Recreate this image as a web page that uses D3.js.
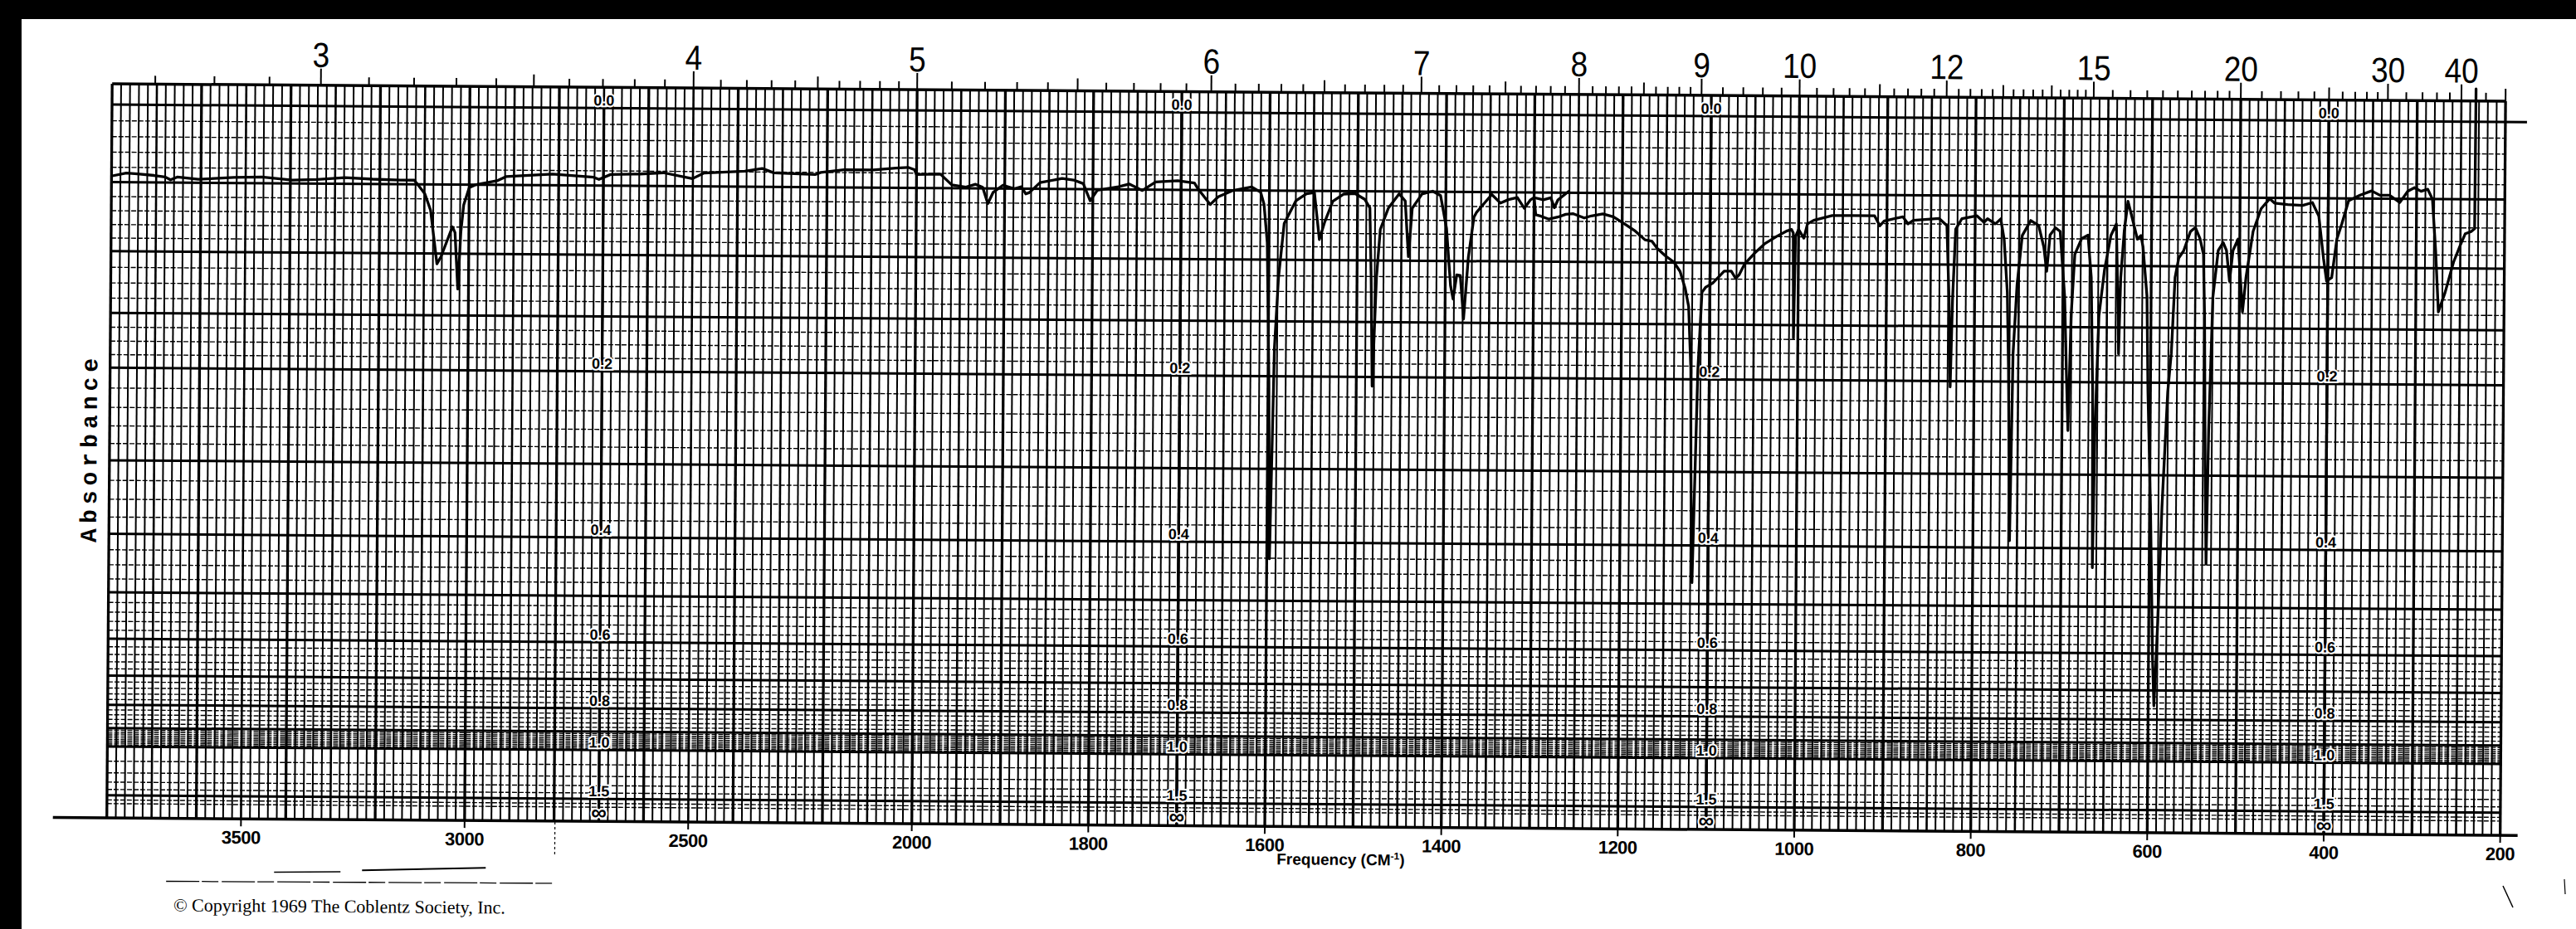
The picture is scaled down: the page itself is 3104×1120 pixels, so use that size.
<!DOCTYPE html>
<html>
<head>
<meta charset="utf-8">
<script src="https://cdn.jsdelivr.net/npm/d3@7"></script>
<style>
  body { margin: 0; background: #fff; }
  svg { display: block; }
</style>
</head>
<body>
<svg id="chart"></svg>
<script>
// Spectrum trace: wavenumber (cm-1) and transmittance (%)
var freq = [3798, 3767, 3742, 3705, 3680, 3668, 3653, 3606, 3526, 3464, 3396, 3340, 3278, 3216, 3154, 3123,
  3114, 3099, 3086, 3071, 3062, 3037, 3031, 3024, 3018, 3012, 3000, 2987, 2938, 2918, 2814, 2722, 2710, 2684,
  2618, 2566, 2501, 2475, 2384, 2345, 2319, 2227, 2214, 2162, 2097, 2046, 2019, 2005, 2000,
  1973, 1960, 1944, 1933, 1925, 1919, 1913, 1902, 1889, 1881, 1876, 1872, 1860, 1835, 1822, 1811, 1803, 1795,
  1771, 1759, 1744, 1729, 1704, 1685, 1681, 1667, 1658, 1641, 1620, 1610, 1606, 1602, 1599, 1597, 1593, 1589,
  1583, 1570, 1558, 1549, 1543, 1537, 1528, 1516, 1503, 1492, 1486, 1484, 1482, 1478, 1474, 1465, 1453, 1446,
  1442, 1438, 1427, 1415, 1406, 1399, 1394, 1391, 1387, 1383, 1379, 1374, 1368, 1365, 1348, 1338, 1329, 1319,
  1311, 1304, 1300, 1298, 1292, 1283, 1273, 1264, 1256, 1243, 1235, 1222, 1210, 1197, 1185, 1174, 1166, 1160,
  1151, 1141, 1134, 1128, 1124, 1121, 1120, 1118, 1113, 1109, 1105, 1097, 1090, 1084, 1076, 1071, 1067, 1061,
  1050, 1038, 1025, 1013, 1008, 1006, 1005, 1003.5, 1000, 994, 990, 983, 962, 941, 914, 908, 903, 882, 876, 870,
  841, 832, 829, 827, 825, 822, 815, 798, 790, 786, 777, 771, 767, 763, 761, 758.5, 756, 752, 746.5, 737, 728,
  722, 718.6, 715, 709, 703.6, 698, 695.4, 693.2, 690.5, 686.8, 679.3, 672, 668, 665.5, 664.4, 662.6, 659, 653,
  646, 640, 637.2, 636.5, 634.6, 631, 627, 623.4, 616, 612, 609.6, 604.7, 602.8, 599, 595.4, 593.5, 589.8, 586,
  580.4, 576.7, 573, 569, 563.6, 556, 550.5, 545, 541, 539.3, 537.4, 535.6, 533.7, 530, 524.3, 518.8, 515,
  511.3, 507.6, 502, 496.4, 492.6, 485, 476, 466.5, 461, 446, 429, 418, 410.6, 405, 401.3, 395.6, 390, 384.4,
  377, 364, 351, 341.6, 330.4, 319, 310, 302.4, 295, 287.5, 282, 278, 274.4, 267, 257.6, 250, 244.5, 238, 234, 233.5];
var trans = [90.0, 90.4, 90.3, 90.1, 89.9, 89.5, 89.9, 89.6, 89.9, 90.0, 89.6, 89.7, 90.0, 89.8, 89.7, 89.7,
  89.0, 87.8, 85.5, 78.0, 79.0, 83.2, 82.4, 74.5, 82.5, 86.3, 88.7, 89.1, 89.7, 90.3, 90.7, 90.3, 90.0, 90.7,
  90.8, 91.0, 90.2, 91.0, 91.3, 91.7, 91.1, 90.9, 91.2, 91.6, 91.6, 91.9, 92.0, 91.7, 91.0,
  91.1, 89.6, 89.3, 89.7, 89.3, 87.0, 88.6, 89.6, 89.1, 89.4, 88.4, 88.6, 90.0, 90.6, 90.4, 89.9, 87.5, 89.0,
  89.5, 89.9, 89.0, 90.2, 90.4, 90.1, 89.3, 87.1, 88.2, 89.1, 89.6, 88.9, 87.2, 81.8, 62.2, 37.5, 67.1, 76.9,
  84.5, 87.7, 88.7, 88.9, 82.3, 84.8, 87.7, 88.7, 88.8, 88.0, 86.8, 77.0, 61.8, 77.0, 83.8, 86.8, 88.8, 87.8,
  80.0, 86.8, 88.8, 89.2, 88.6, 84.0, 76.0, 74.1, 77.5, 77.4, 71.3, 80.0, 85.6, 86.3, 88.8, 87.6, 88.1, 88.4,
  86.9, 88.1, 88.4, 86.0, 85.8, 85.4, 85.7, 86.1, 86.2, 85.6, 85.9, 86.2, 85.8, 84.8, 83.8, 82.6, 82.4, 81.4,
  80.4, 79.5, 78.2, 75.8, 73.3, 64.5, 49.8, 34.6, 64.5, 75.3, 76.0, 76.6, 77.5, 78.3, 78.3, 77.3, 77.8, 79.3,
  80.8, 82.2, 83.2, 84.0, 84.2, 83.7, 69.0, 83.2, 84.2, 83.0, 85.0, 85.5, 86.2, 86.2, 86.2, 84.8, 85.5, 86.1, 85.1, 85.6,
  85.9, 84.9, 74.6, 62.3, 74.6, 84.4, 85.9, 86.3, 85.4, 85.9, 85.2, 85.9, 83.0, 75.6, 64.8, 40.8, 67.0, 76.7, 83.6, 85.7, 85.0,
  82.0, 78.6, 83.7, 84.7, 84.2, 75.1, 64.4, 56.3, 72.4, 81.0, 83.2, 83.7, 77.8, 61.7, 37.1, 56.4, 72.4, 78.9,
  83.7, 85.3, 72.5, 67.1, 77.8, 84.3, 88.5, 86.8, 83.2, 83.7, 82.1, 75.2, 61.8, 45.7, 24.3, 17.8, 29.6, 45.7,
  61.8, 67.2, 77.9, 80.6, 81.6, 84.3, 84.9, 83.3, 81.1, 72.6, 51.1, 37.7, 56.5, 75.2, 81.7, 82.8, 81.7,
  77.4, 81.7, 83.3, 73.1, 78.0, 84.4, 87.6, 89.0, 88.4, 88.2, 88.1, 88.5, 86.6, 80.7, 77.5, 78.0, 83.4, 85.6,
  88.8, 89.6, 90.2, 89.6, 89.6, 88.6, 90.2, 90.7, 90.2, 90.5, 89.1, 81.9, 73.3, 76.0, 80.3, 82.7, 84.3, 84.6, 85.0, 104.6];

// short loose piece of trace where the chart paper overlaps near 1290 cm-1
var overlapFreq = [1300, 1289.5, 1281, 1277, 1273, 1260];
var overlapTrans = [88.4, 88.1, 88.4, 87.0, 88.1, 89.4];

// axis labels
var micronLabels = [3, 4, 5, 6, 7, 8, 9, 10, 12, 15, 20, 30, 40];
var frequencyLabels = [3500, 3000, 2500, 2000, 1800, 1600, 1400, 1200, 1000, 800, 600, 400, 200];
var absorbanceLabels = ["0.0", "0.2", "0.4", "0.6", "0.8", "1.0", "1.5", "\u221e"];
var absorbanceValues = [0, 0.2, 0.4, 0.6, 0.8, 1.0, 1.5, Infinity];
var absorbanceColumns = [2700, 1700, 1100, 400];
var heavyAbsorbance = [0, 0.05, 0.1, 0.15, 0.2, 0.3, 0.4, 0.5, 0.6, 0.7, 0.8, 0.9, 1.0, 1.5];
// [from, to, step] of the fine absorbance rulings
var fineRulings = [[0, 0.1, 0.01], [0.1, 0.2, 0.0125], [0.2, 0.3, 0.02], [0.3, 0.5, 0.025],
  [0.5, 0.9, 0.02], [0.9, 1.0, 0.01], [1.0, 1.8, 0.1]];

var W = 3104, H = 1120;
var gridTop = 101, gridBottom = 986;

var svg = d3.select("#chart").attr("width", W).attr("height", H);
svg.append("rect").attr("width", W).attr("height", H).attr("fill", "#fff");

// the scanned sheet sits a little crooked
var chart = svg.append("g").attr("transform", "rotate(0.418,135,126)");

// wavenumber scale changes by 2x at 2000 cm-1
var x = d3.scaleLinear().domain([3800, 2000, 200]).range([135, 1105, 3019]);
var y = d3.scaleLinear().domain([0, 100]).range([gridBottom, 126]);
function toT(a) { return a === Infinity ? 0 : 100 * Math.pow(10, -a); }

// vertical rulings =====================================================
var vMinor = [], vMid = [], vMajor = [];
for (var v = 3800; v > 2000; v -= 20) {
  if (v % 200 === 0) vMajor.push(v); else if (v % 100 === 0) vMid.push(v); else vMinor.push(v);
}
for (var v = 2000; v >= 200; v -= 10) {
  if (v % 100 === 0) vMajor.push(v); else if (v % 50 === 0) vMid.push(v); else vMinor.push(v);
}

function vLines(data, w) {
  chart.append("g").selectAll("line").data(data).join("line")
    .attr("x1", d => x(d)).attr("x2", d => x(d))
    .attr("y1", gridTop).attr("y2", gridBottom)
    .attr("stroke", "#000").attr("stroke-width", w);
}
vLines(vMinor, 2);
vLines(vMid, 2.6);
vLines(vMajor, 3.3);

// horizontal rulings ===================================================
var fineA = [];
fineRulings.forEach(function (r) {
  var n = Math.round((r[1] - r[0]) / r[2]);
  for (var i = 1; i < n; i++) fineA.push(r[0] + i * r[2]);
});
fineA = fineA.filter(a => !heavyAbsorbance.some(h => Math.abs(h - a) < 1e-6));
fineA.sort((a, b) => a - b);

chart.append("g").selectAll("line").data(fineA).join("line")
  .attr("x1", x(3800)).attr("x2", x(200))
  .attr("y1", d => y(toT(d))).attr("y2", d => y(toT(d)))
  .attr("stroke", "#000").attr("stroke-width", 1.4)
  .attr("stroke-dasharray", "6,2");

chart.append("g").selectAll("line").data(heavyAbsorbance).join("line")
  .attr("x1", x(3800)).attr("x2", d => d === 0 ? x(200) + 26 : x(200))
  .attr("y1", d => y(toT(d))).attr("y2", d => y(toT(d)))
  .attr("stroke", "#000").attr("stroke-width", 3);

// borders
chart.append("line").attr("x1", x(3800)).attr("x2", x(200)).attr("y1", gridTop).attr("y2", gridTop)
  .attr("stroke", "#000").attr("stroke-width", 3.5);
chart.append("line").attr("x1", 70).attr("x2", 3040).attr("y1", gridBottom).attr("y2", gridBottom)
  .attr("stroke", "#000").attr("stroke-width", 3.5);

// label columns for the absorbance scale
chart.append("g").selectAll("line").data(absorbanceColumns).join("line")
  .attr("x1", d => x(d)).attr("x2", d => x(d))
  .attr("y1", y(100)).attr("y2", gridBottom)
  .attr("stroke", "#000").attr("stroke-width", 3.3);

// top wavelength scale (microns) =======================================
var micronTicks = [];
for (var m = 27; m <= 90; m++) micronTicks.push(m / 10);
for (var m = 46; m <= 75; m++) micronTicks.push(m / 5);
for (var m = 31; m <= 40; m++) micronTicks.push(m / 2);
for (var m = 21; m <= 30; m++) micronTicks.push(m);
[32, 34, 36, 38, 40, 45, 50].forEach(m => micronTicks.push(m));

function tickLen(m) {
  if (micronLabels.some(l => Math.abs(l - m) < 1e-6)) return 20;
  var half = Math.abs(m * 2 - Math.round(m * 2)) < 1e-6 && Math.abs(m - Math.round(m)) > 1e-6;
  if (m < 9 && half) return 15;
  if ([11, 13, 14, 25, 35, 50].indexOf(m) >= 0) return 15;
  return 10;
}

chart.append("g").selectAll("line").data(micronTicks).join("line")
  .attr("x1", d => x(10000 / d)).attr("x2", d => x(10000 / d))
  .attr("y1", gridTop).attr("y2", d => gridTop - tickLen(d))
  .attr("stroke", "#000").attr("stroke-width", 2);

chart.append("g").selectAll("text").data(micronLabels).join("text")
  .attr("transform", d => "translate(" + x(10000 / d) + ",79) scale(0.88,1)")
  .attr("text-anchor", "middle")
  .attr("font-family", "'Liberation Sans', Arial, sans-serif")
  .attr("font-size", 42)
  .text(d => d);

// bottom frequency scale ===============================================
chart.append("g").selectAll("line").data(frequencyLabels).join("line")
  .attr("x1", d => x(d)).attr("x2", d => x(d))
  .attr("y1", gridBottom).attr("y2", gridBottom + 9)
  .attr("stroke", "#000").attr("stroke-width", 2);

chart.append("g").selectAll("text").data(frequencyLabels).join("text")
  .attr("x", d => x(d)).attr("y", 1016)
  .attr("text-anchor", "middle")
  .attr("font-family", "'Liberation Sans', Arial, sans-serif")
  .attr("font-weight", "bold").attr("font-size", 22)
  .attr("letter-spacing", -0.5)
  .text(d => d);

var freqTitle = chart.append("text")
  .attr("x", 1622).attr("y", 1032)
  .attr("text-anchor", "middle")
  .attr("font-family", "'Liberation Sans', Arial, sans-serif")
  .attr("font-weight", "bold").attr("font-size", 19);
freqTitle.append("tspan").text("Frequency (CM");
freqTitle.append("tspan").attr("font-size", 12).attr("dy", -7).text("-1");
freqTitle.append("tspan").attr("dy", 7).text(")");

// absorbance labels in four columns ====================================
absorbanceColumns.forEach(function (col) {
  chart.append("g").selectAll("text").data(absorbanceLabels).join("text")
    .attr("x", x(col))
    .attr("y", (d, i) => absorbanceValues[i] === Infinity ? gridBottom - 2 : y(toT(absorbanceValues[i])) - 3)
    .attr("text-anchor", "middle")
    .attr("font-family", "'Liberation Sans', Arial, sans-serif")
    .attr("font-weight", "bold")
    .attr("font-size", (d, i) => absorbanceValues[i] === Infinity ? 26 : 18)
    .attr("stroke", "#fff").attr("stroke-width", 4).attr("paint-order", "stroke")
    .attr("fill", "#000")
    .text(d => d);
});

chart.append("text")
  .attr("transform", "translate(112,540) rotate(-90)")
  .attr("text-anchor", "middle").attr("dominant-baseline", "central")
  .attr("font-family", "'Liberation Mono', 'DejaVu Sans Mono', monospace")
  .attr("font-weight", "bold").attr("font-size", 28)
  .attr("letter-spacing", 6)
  .text("Absorbance");

// spectrum ==============================================================
var line = d3.line().x(d => x(d[0])).y(d => y(d[1]));

chart.append("path").datum(d3.zip(freq, trans))
  .attr("d", line)
  .attr("fill", "none").attr("stroke", "#000")
  .attr("stroke-width", 3.3).attr("stroke-linejoin", "round").attr("stroke-linecap", "round");

chart.append("path").datum(d3.zip(overlapFreq, overlapTrans))
  .attr("d", line)
  .attr("fill", "none").attr("stroke", "#000")
  .attr("stroke-width", 3.3).attr("stroke-linejoin", "round");

// copyright line and scanner marks ======================================
chart.append("text")
  .attr("x", 216).attr("y", 1098)
  .attr("font-family", "'Liberation Serif', 'Times New Roman', serif")
  .attr("font-size", 22)
  .text("\u00a9 Copyright 1969   The Coblentz Society, Inc.");

var marks = chart.append("g").attr("stroke", "#000").attr("fill", "none");
marks.append("line").attr("x1", 337).attr("y1", 1050).attr("x2", 417).attr("y2", 1049).attr("stroke-width", 1.5);
marks.append("line").attr("x1", 443).attr("y1", 1047).attr("x2", 592).attr("y2", 1043).attr("stroke-width", 2);
marks.append("line").attr("x1", 207).attr("y1", 1062).attr("x2", 672).attr("y2", 1061).attr("stroke-width", 1.3)
  .attr("stroke-dasharray", "40,3,20,4");
marks.append("line").attr("x1", 675).attr("y1", 987).attr("x2", 675).attr("y2", 1027).attr("stroke-width", 1.2)
  .attr("stroke-dasharray", "3,3");

// scan border
svg.append("rect").attr("x", 0).attr("y", 0).attr("width", W).attr("height", 23).attr("fill", "#000");
svg.append("rect").attr("x", 0).attr("y", 0).attr("width", 26).attr("height", H).attr("fill", "#000");
svg.append("line").attr("x1", 3016).attr("y1", 1068).attr("x2", 3028).attr("y2", 1094)
  .attr("stroke", "#000").attr("stroke-width", 1.5);
svg.append("line").attr("x1", 3090).attr("y1", 1060).attr("x2", 3091).attr("y2", 1078)
  .attr("stroke", "#000").attr("stroke-width", 1.2);
</script>
</body>
</html>
